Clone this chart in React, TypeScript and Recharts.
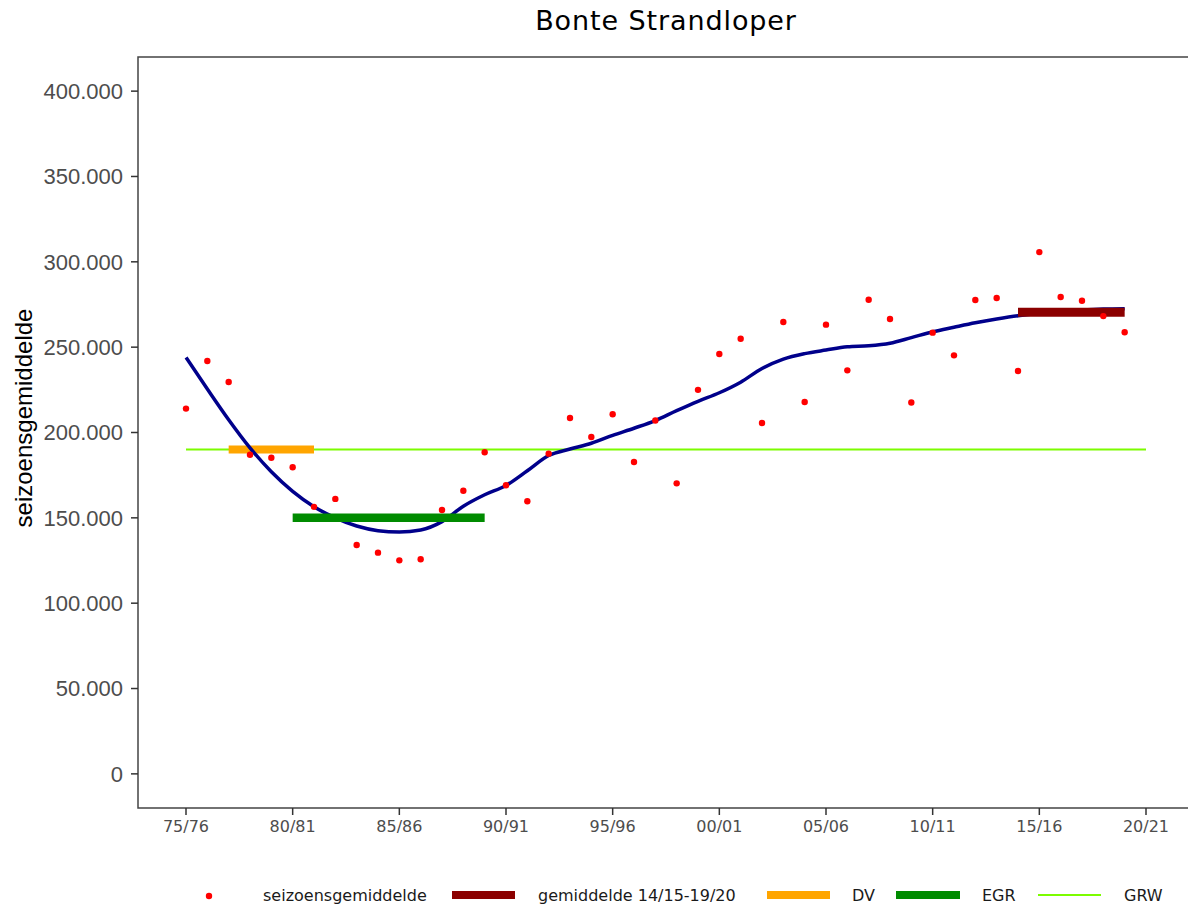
import React from "react";
import {
  ComposedChart,
  Line,
  Scatter,
  XAxis,
  YAxis,
  ReferenceArea,
} from "recharts";

// seasons on the x axis (index = position)
const seasons = [
  "75/76", "76/77", "77/78", "78/79", "79/80", "80/81", "81/82", "82/83",
  "83/84", "84/85", "85/86", "86/87", "87/88", "88/89", "89/90", "90/91",
  "91/92", "92/93", "93/94", "94/95", "95/96", "96/97", "97/98", "98/99",
  "99/00", "00/01", "01/02", "02/03", "03/04", "04/05", "05/06", "06/07",
  "07/08", "08/09", "09/10", "10/11", "11/12", "12/13", "13/14", "14/15",
  "15/16", "16/17", "17/18", "18/19", "19/20", "20/21",
];

const xTickLabels = [
  "75/76", "80/81", "85/86", "90/91", "95/96",
  "00/01", "05/06", "10/11", "15/16", "20/21",
];

const yTicks = [0, 50000, 100000, 150000, 200000, 250000, 300000, 350000, 400000];

// seizoensgemiddelde, 75/76 .. 19/20
const seasonAverages = [
  214000, 241900, 229600, 187000, 185200, 179600, 156400, 161100,
  134100, 129600, 125100, 125700, 154600, 165900, 188400, 169100,
  159700, 187600, 208500, 197400, 210700, 182700, 207000, 170200,
  225000, 246000, 254900, 205600, 264700, 217900, 263200, 236400,
  277800, 266500, 217600, 258500, 245200, 277600, 278800, 236000,
  305700, 279400, 277200, 268200, 258700,
];

// smoothed trend, 75/76 .. 19/20
const trendValues = [
  244000, 225500, 207500, 191000, 177000, 165500, 156500, 150000,
  145200, 142500, 141700, 142900, 147800, 156800, 163500, 169000,
  177600, 186500, 190300, 193700, 198300, 202500, 207000, 212800,
  218300, 223300, 229500, 237500, 243000, 246200, 248300, 250200,
  250800, 252300, 255600, 259000, 261700, 264300, 266500, 268400,
  269800, 270800, 271700, 272300, 272500,
];

const gemSeasons = ["14/15", "19/20"];
const gemValue = 270500;
const dvSeasons = ["77/78", "81/82"];
const dvValue = 190000;
const egrSeasons = ["80/81", "89/90"];
const egrValue = 150000;
const grwSeasons = ["75/76", "20/21"];
const grwValue = 190000;

const idx = (s: string) => seasons.indexOf(s);

const pointData = seasonAverages.map((y, i) => ({ x: i, y }));
const trendData = trendValues.map((y, i) => ({ x: i, y }));
const segment = (range: string[], value: number) =>
  range.map((s) => ({ x: idx(s), y: value }));

const fmt = (n: number) =>
  String(n).replace(/\B(?=(\d{3})+(?!\d))/g, ".");

const X_DOMAIN: [number, number] = [-2.25, 47.25];
const Y_DOMAIN: [number, number] = [-20000, 420000];

const legendFont = "'DejaVu Sans', sans-serif";

const ChartLegend = () => (
  <svg
    width={1188}
    height={40}
    style={{ position: "absolute", left: 0, top: 876 }}
  >
    <g fontFamily={legendFont} fontSize={16} fill="#1a1a1a">
      <circle cx={209} cy={20} r={3.2} fill="#FF0000" />
      <text x={263} y={25}>seizoensgemiddelde</text>
      <line x1={452} x2={515} y1={19} y2={19} stroke="#8B0000" strokeWidth={8} />
      <text x={538} y={25}>gemiddelde 14/15-19/20</text>
      <line x1={767} x2={830} y1={19} y2={19} stroke="#FFA500" strokeWidth={8} />
      <text x={852} y={25}>DV</text>
      <line x1={896} x2={960} y1={19} y2={19} stroke="#008B00" strokeWidth={8} />
      <text x={982} y={25}>EGR</text>
      <line x1={1038} x2={1101} y1={19} y2={19} stroke="#7CFC00" strokeWidth={2} />
      <text x={1124} y={25}>GRW</text>
    </g>
  </svg>
);

export default function App() {
  return (
    <div
      style={{
        position: "absolute",
        left: 0,
        top: 0,
        width: 1188,
        height: 906,
        overflow: "hidden",
        background: "#fff",
      }}
    >
      <div
        style={{
          position: "absolute",
          top: 7,
          left: 138,
          width: 1056,
          textAlign: "center",
          fontFamily: legendFont,
          fontSize: 27,
          lineHeight: "27px",
          letterSpacing: 0.9,
          color: "#000",
        }}
      >
        Bonte Strandloper
      </div>

      <ComposedChart
        width={1194}
        height={906}
        margin={{ top: 57, right: 0, bottom: 0, left: 0 }}
      >
        <XAxis
          dataKey="x"
          type="number"
          domain={X_DOMAIN}
          allowDataOverflow
          ticks={xTickLabels.map(idx)}
          interval={0}
          tickFormatter={(i: number) => seasons[i]}
          height={98}
          axisLine={false}
          tickLine={{ stroke: "#333", strokeWidth: 1.5 }}
          tickSize={7}
          tickMargin={6}
          tick={{ fill: "#4d4d4d", fontSize: 16, fontFamily: legendFont }}
        />
        <YAxis
          type="number"
          domain={Y_DOMAIN}
          allowDataOverflow
          ticks={yTicks}
          interval={0}
          tickFormatter={fmt}
          width={138}
          axisLine={false}
          tickLine={{ stroke: "#333", strokeWidth: 1.5 }}
          tickSize={7}
          tickMargin={8}
          tick={{
            fill: "#4d4d4d",
            fontSize: 22,
            fontFamily: "'Liberation Sans', Arial, sans-serif",
          }}
          label={() => (
            <text
              x={32}
              y={418}
              transform="rotate(-90 32 418)"
              textAnchor="middle"
              fontSize={24}
              fontFamily="'Liberation Sans', Arial, sans-serif"
              fill="#000"
            >
              seizoensgemiddelde
            </text>
          )}
        />

        <ReferenceArea
          x1={X_DOMAIN[0]}
          x2={X_DOMAIN[1]}
          y1={Y_DOMAIN[0]}
          y2={Y_DOMAIN[1]}
          fill="none"
          stroke="#444"
          strokeWidth={1.5}
          ifOverflow="visible"
        />

        <Line
          data={segment(grwSeasons, grwValue)}
          dataKey="y"
          stroke="#7CFC00"
          strokeWidth={2}
          dot={false}
          activeDot={false}
          isAnimationActive={false}
        />
        <Line
          data={segment(dvSeasons, dvValue)}
          dataKey="y"
          stroke="#FFA500"
          strokeWidth={8}
          dot={false}
          activeDot={false}
          isAnimationActive={false}
        />
        <Line
          data={trendData}
          dataKey="y"
          type="monotone"
          stroke="#00008B"
          strokeWidth={3.5}
          dot={false}
          activeDot={false}
          isAnimationActive={false}
        />
        <Line
          data={segment(egrSeasons, egrValue)}
          dataKey="y"
          stroke="#008B00"
          strokeWidth={8.5}
          dot={false}
          activeDot={false}
          isAnimationActive={false}
        />
        <Line
          data={segment(gemSeasons, gemValue)}
          dataKey="y"
          stroke="#8B0000"
          strokeWidth={9}
          dot={false}
          activeDot={false}
          isAnimationActive={false}
        />
        <Scatter
          data={pointData}
          dataKey="y"
          isAnimationActive={false}
          shape={(p: any) => (
            <circle cx={p.cx} cy={p.cy} r={3.2} fill="#FF0000" />
          )}
        />
      </ComposedChart>

      <ChartLegend />
    </div>
  );
}
